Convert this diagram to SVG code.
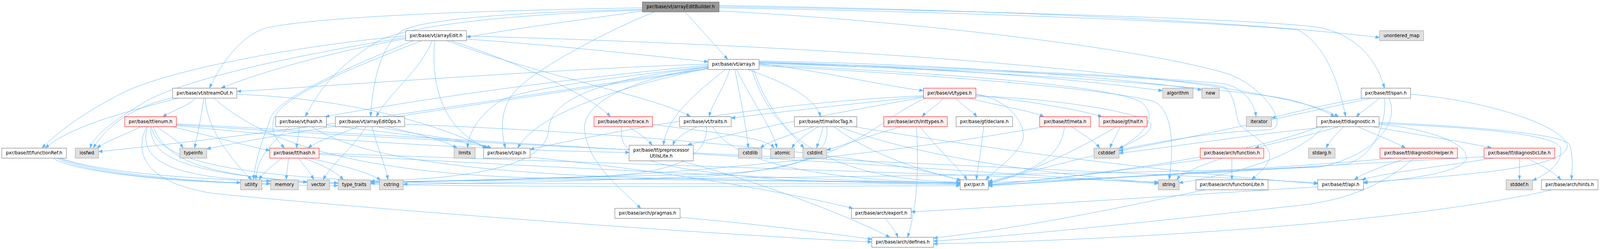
<svg xmlns="http://www.w3.org/2000/svg" width="4490" height="637" viewBox="0 0 4490 637" preserveAspectRatio="none">
<style>
svg{width:100vw;height:100vh}
.e path{fill:none;stroke:#63b8ff;stroke-width:1;marker-end:url(#a)}
.nd rect{stroke-width:1}
.w rect{fill:#fff;stroke:#666}
.g rect{fill:#e0e0e0;stroke:#999}
.r rect{fill:#fff0f0;stroke:#f00}
.root rect{fill:#999;stroke:#666}
text{font-family:"DejaVu Sans","Liberation Sans",sans-serif;font-size:12.8px;text-anchor:middle;fill:#000}
</style>
<defs>
<marker id="a" markerWidth="11" markerHeight="8" refX="11" refY="4" orient="auto" markerUnits="userSpaceOnUse"><path d="M0,0L11,4L0,8z" fill="#63b8ff" stroke="#63b8ff" stroke-width="1"/></marker>
</defs>
<rect width="4490" height="637" fill="#fff"/>
<g id="edges" class="e">
<path d="M1923,30.6 L2042,151.5"/>
<path d="M1803,28 C1700,42 1450,72 1309.5,95"/>
<path d="M1803,20 C1400,26 900,40 745,72 C680,90 620,160 588,225"/>
<path d="M1803,24 C1500,30 1200,45 1130,78 C1060,120 1045,230 1040,298"/>
<path d="M1803,26 C1500,34 1150,60 1060,106 C960,160 900,220 857,298"/>
<path d="M1836,30.6 C1700,80 1520,170 1460,220 C1400,270 1405,330 1418,378.5"/>
<path d="M2018,14 C2800,25 3500,55 3871,96"/>
<path d="M2018,17 C2800,28 3550,50 3700,70 C3820,90 3870,170 3885,225"/>
<path d="M2018,20 C2800,32 3450,60 3640,76 C3720,110 3760,220 3776,298"/>
<path d="M2018,28 C2500,50 3200,120 3450,190 C3560,230 3620,330 3560,332 C3300,340 3000,410 2774,468"/>
<path d="M1309,100 C1550,115 1800,140 1987,158"/>
<path d="M1138.5,99 C950,130 760,175 621,225"/>
<path d="M1138.5,92 C900,110 500,170 350,235 C230,290 160,340 118,378.5"/>
<path d="M1138.5,96 C900,130 500,200 390,270 C300,320 265,350 252,378.5"/>
<path d="M1183,104 C1000,170 800,240 770,300 C755,340 780,360 798,378.5"/>
<path d="M1213,104 C1180,180 1090,240 1056,298"/>
<path d="M1220,104 C1210,200 1230,330 1370,378.5"/>
<path d="M1266,104 C1450,160 1650,240 1713,298"/>
<path d="M1254,104 C1500,190 1850,250 1937,298"/>
<path d="M1309,92 C2000,110 2800,145 3400,220 C3600,250 3700,270 3756,298"/>
<path d="M1160,104 C900,200 780,260 760,300 C740,350 715,410 712,459.5"/>
<path d="M1987,164 C1600,175 1000,215 665,234"/>
<path d="M1987,167 C1600,200 1200,250 913,298.5"/>
<path d="M2048,177.6 C2030,230 2000,260 1990,298"/>
<path d="M2036,177.6 C1950,240 1870,300 1862,371"/>
<path d="M2062,177.6 C2080,260 2095,330 2100,378.5"/>
<path d="M2067,177.6 C2110,260 2170,330 2180,378.5"/>
<path d="M2098,177.6 C2200,210 2290,250 2302,298"/>
<path d="M2130,163 C2300,180 2450,215 2591,232"/>
<path d="M1987,171 C1800,200 1640,250 1640,330 C1650,420 1740,480 1798,533"/>
<path d="M1987,170 C1700,200 1450,230 1400,260 C1340,300 1315,340 1312,378.5"/>
<path d="M1987,174 C1700,230 1500,300 1453,378.5"/>
<path d="M1987,172 C1700,200 1545,250 1540,330 C1535,430 1300,458 1040.5,463"/>
<path d="M2130,158 C2600,170 3000,200 3262,232"/>
<path d="M2130,156 C2700,165 3150,200 3372,230"/>
<path d="M2130,160 C2800,175 3300,200 3440,215 C3500,230 3520,270 3525,298"/>
<path d="M2130,165 C2600,185 3100,215 3200,260 C3260,300 3200,350 3140,380"/>
<path d="M2130,168 C2600,190 3100,225 3240,260 C3300,290 3290,400 3281,459.5"/>
<path d="M2130,162 C2700,180 3300,195 3433,222 C3470,240 3465,300 3480,320 C3510,345 3565,370 3563,400 C3560,425 3530,445 3513,459.5"/>
<path d="M2130,160 C2900,185 3500,230 3620,255 C3680,270 3720,285 3745,298"/>
<path d="M2110,177.6 C2160,330 2300,460 2694,466"/>
<path d="M1987,175 C1500,240 900,330 276.5,388"/>
<path d="M1987,176 C1500,250 900,320 580.5,381"/>
<path d="M2115,177.6 C2150,280 2220,340 2256,378.5"/>
<path d="M550,251 C530,270 480,285 457,298.5"/>
<path d="M572,251 C565,300 555,340 546,378.5"/>
<path d="M576,251 C580,330 650,410 706,459.5"/>
<path d="M500,251 C380,280 200,320 127,378.5"/>
<path d="M486,250 C380,270 300,320 262,378.5"/>
<path d="M664.5,241 C950,252 1180,300 1365,378.5"/>
<path d="M600,251 C700,330 900,440 1500,455 C2000,462 2400,465 2694,468"/>
<path d="M396,324 C350,345 300,360 272,378.5"/>
<path d="M441,324 C470,345 500,360 514,378.5"/>
<path d="M482,324 C600,350 700,375 757,385"/>
<path d="M412,324 C370,400 420,470 600,495 C1100,540 2000,600 2446,619"/>
<path d="M414,324 C390,400 450,455 759,463"/>
<path d="M422,324 C425,400 500,440 862,466"/>
<path d="M430,324 C470,420 600,455 948,468"/>
<path d="M495,317 C1200,350 2800,440 3250,470"/>
<path d="M495,321 C900,360 1400,385 1765.5,390"/>
<path d="M495,319 C1500,380 3200,440 3698,468"/>
<path d="M425,324 C440,420 700,470 1500,470 C2000,470 2400,470 2694,471"/>
<path d="M150,404.6 C200,440 500,467 675,467"/>
<path d="M160,404.6 C250,450 600,470 759,470"/>
<path d="M165,404.6 C300,455 700,475 948,475"/>
<path d="M170,404.6 C400,480 1200,480 2694,475"/>
<path d="M840,324 C838,345 834,360 832,378.5"/>
<path d="M916,320 C1100,340 1300,360 1372,378.5"/>
<path d="M875,324 C1000,400 1300,440 1800,455 C2200,462 2500,466 2694,467"/>
<path d="M813,324 C770,360 720,400 718,459.5"/>
<path d="M1005,324 C950,345 890,360 865,378.5"/>
<path d="M1027,324 C990,380 930,420 907,459.5"/>
<path d="M1044,324 C1060,380 1080,420 1089,459.5"/>
<path d="M1087,324 C1180,345 1250,360 1282,378.5"/>
<path d="M1058,324 C1200,350 1330,360 1378,378.5"/>
<path d="M1135.5,318 C1800,340 2500,400 2696,462"/>
<path d="M810,404.6 C808,420 805,440 803,459.5"/>
<path d="M837,404.6 C850,420 870,440 880,459.5"/>
<path d="M852,404.6 C900,420 945,440 963,459.5"/>
<path d="M866,404.6 C950,420 1030,440 1068,460"/>
<path d="M790,404.6 C770,420 740,440 727,459.5"/>
<path d="M895.6,395 C1400,420 2200,460 2694,469"/>
<path d="M895.6,392 C1800,420 2800,450 3250.5,466"/>
<path d="M1487.4,402 C1900,440 2250,500 2393,533"/>
<path d="M1765,324 C1790,340 1815,355 1830,371"/>
<path d="M1831,318 C2000,340 2150,350 2172,378.5"/>
<path d="M1744,324 C1735,400 1800,430 2200,460 C2450,468 2600,470 2694,472"/>
<path d="M1956,324 C1920,340 1895,355 1888,371"/>
<path d="M2000,324 C2060,420 2300,460 2694,469"/>
<path d="M1983,324 C1985,400 1900,440 1700,450 C1400,460 1200,465 1040.5,466"/>
<path d="M2648,251 C2630,270 2600,285 2588,298.5"/>
<path d="M2682,251 C2700,270 2730,285 2741,298.5"/>
<path d="M2718,251 C2800,270 2900,285 2929,298.5"/>
<path d="M2738.6,243 C2900,260 3050,285 3092,298.5"/>
<path d="M2738.6,240 C2850,260 2880,330 2870,360 C2850,400 2800,430 2766,459.5"/>
<path d="M2591.3,245 C2200,260 1800,320 1488,382"/>
<path d="M2591.3,247 C2400,265 2200,285 2052,302"/>
<path d="M2591.3,249 C2400,280 2100,330 1930,371"/>
<path d="M2598,251 C2450,310 2400,420 2000,450 C1600,465 1300,470 1132,471"/>
<path d="M2738.6,246 C2950,250 3230,290 3230,320 C3230,345 3180,360 3142,381"/>
<path d="M2310,324 C2305,345 2297,360 2292,378.5"/>
<path d="M2283,324 C2220,345 2160,360 2134,378.5"/>
<path d="M2297,324 C2260,345 2235,360 2222,378.5"/>
<path d="M2340,324 C2450,400 2600,440 2697,461"/>
<path d="M2355,324 C2600,410 3000,450 3250.5,468"/>
<path d="M2395,324 C2900,400 3400,450 3698,470"/>
<path d="M2320,324 C2330,400 2250,435 2000,445 C1600,455 1200,462 1040.5,469"/>
<path d="M2527,324 C2450,345 2370,370 2320,384"/>
<path d="M2572,324 C2580,450 2570,540 2547,607"/>
<path d="M2582,324 C2630,380 2690,430 2714,459.5"/>
<path d="M2760,324 C2755,380 2745,420 2740,459.5"/>
<path d="M3007,324 C3040,345 3070,360 3086,378.5"/>
<path d="M2987,324 C2980,400 2900,440 2774,464"/>
<path d="M2930,324 C2600,380 2000,440 1600,455 C1300,462 1150,466 1040.5,468"/>
<path d="M3143,324 C3135,345 3122,360 3115,378.5"/>
<path d="M3133,324 C3050,370 2900,440 2774,470"/>
<path d="M3457,404.6 L3457,459.5"/>
<path d="M3430,404.6 C3380,420 3320,440 3302,459.5"/>
<path d="M3400,404.6 C3200,430 2950,460 2774,472"/>
<path d="M3770,324 C3750,345 3730,360 3722,378.5"/>
<path d="M3757,324 C3680,345 3580,365 3522,378.5"/>
<path d="M3733,324 C3500,345 3300,375 3140.5,392"/>
<path d="M3811,324 C3860,345 3920,365 3943,378.5"/>
<path d="M3851,324 C3980,345 4120,365 4185,378.5"/>
<path d="M3869.8,313 C4100,322 4380,340 4405,370 C4415,400 4412,430 4410,459.5"/>
<path d="M3869.8,316 C4100,325 4370,340 4380,380 C4385,420 4340,445 4301,462"/>
<path d="M3869.8,318 C4020,330 4120,370 4115,405 C4110,440 3950,460 3826.5,468"/>
<path d="M3715,324 C3650,390 3500,440 3309,468"/>
<path d="M3700,324 C3500,400 3000,455 2774,473"/>
<path d="M3870,251 C3850,270 3820,285 3806,298.5"/>
<path d="M3827,251 C3700,270 3620,290 3568.3,302"/>
<path d="M3849,251 C3600,300 3300,360 3140.5,386"/>
<path d="M3886,251 C3890,330 3850,400 3780,420 C3500,440 3000,460 2774,467"/>
<path d="M3898,251 C3930,320 3850,400 3700,428 C3000,450 1500,460 1040.5,465"/>
<path d="M3958.5,241 C4200,260 4400,330 4398,375 C4390,410 4300,440 3826.5,466"/>
<path d="M3947,404.6 C3900,420 3830,440 3801,459.5"/>
<path d="M3912,404.6 C3600,430 3000,460 2774,474"/>
<path d="M3967,404.6 C3900,460 3800,510 3650,525 C3300,560 2900,600 2620,617"/>
<path d="M4191,404.6 C4050,425 3900,440 3822,459.5"/>
<path d="M4264,404.6 L4264,459.5"/>
<path d="M4284,404.6 C4320,420 4360,440 4380,459.5"/>
<path d="M4165,401 C3600,430 3000,460 2774,476"/>
<path d="M3698,478 C3300,500 2900,525 2557,542"/>
<path d="M3382,485.6 C3200,520 2900,580 2620,609"/>
<path d="M4355,485.6 C4000,560 3300,610 2620,624"/>
<path d="M2484,558.6 C2500,575 2512,590 2520,607"/>
<path d="M1908.5,556 C2150,575 2350,600 2446.5,612"/>
<path d="M1911,411.5 C2150,470 2400,560 2497,607"/>
</g>
<g id="n_arrayEditBuilder" class="nd root"><rect x="1802.5" y="5" width="215.5" height="25.6"/><text x="1910.2" y="21.1">pxr/base/vt/arrayEditBuilder.h</text></g>
<g id="n_arrayEdit" class="nd w"><rect x="1138.5" y="78.5" width="170.5" height="25.6"/><text x="1223.7" y="94.6">pxr/base/vt/arrayEdit.h</text></g>
<g id="n_unordered_map" class="nd g"><rect x="3871.5" y="78.5" width="123.5" height="25.6"/><text x="3933.2" y="94.6">unordered_map</text></g>
<g id="n_array" class="nd w"><rect x="1987" y="152" width="143" height="25.6"/><text x="2058.5" y="168.1">pxr/base/vt/array.h</text></g>
<g id="n_streamOut" class="nd w"><rect x="484.5" y="225.5" width="180" height="25.6"/><text x="574.5" y="241.6">pxr/base/vt/streamOut.h</text></g>
<g id="n_types" class="nd r"><rect x="2591.5" y="225.5" width="147" height="25.6"/><text x="2665" y="241.6">pxr/base/vt/types.h</text></g>
<g id="n_span" class="nd w"><rect x="3820" y="225.5" width="138.5" height="25.6"/><text x="3889.2" y="241.6">pxr/base/tf/span.h</text></g>
<g id="n_algorithm" class="nd g"><rect x="3262.5" y="225.5" width="85.3" height="25.6"/><text x="3305.2" y="241.6">algorithm</text></g>
<g id="n_new" class="nd g"><rect x="3372.5" y="225.5" width="49" height="25.6"/><text x="3397" y="241.6">new</text></g>
<g id="n_enum" class="nd r"><rect x="350" y="298.5" width="145" height="25.6"/><text x="422.5" y="314.6">pxr/base/tf/enum.h</text></g>
<g id="n_vthash" class="nd w"><rect x="773.5" y="298.5" width="142.5" height="25.6"/><text x="844.7" y="314.6">pxr/base/vt/hash.h</text></g>
<g id="n_arrayEditOps" class="nd w"><rect x="941" y="298.5" width="194.5" height="25.6"/><text x="1038.2" y="314.6">pxr/base/vt/arrayEditOps.h</text></g>
<g id="n_trace" class="nd r"><rect x="1667" y="298.5" width="164" height="25.6"/><text x="1749" y="314.6">pxr/base/trace/trace.h</text></g>
<g id="n_traits" class="nd w"><rect x="1907" y="298.5" width="145" height="25.6"/><text x="1979.5" y="314.6">pxr/base/vt/traits.h</text></g>
<g id="n_mallocTag" class="nd w"><rect x="2229.5" y="298.5" width="175" height="25.6"/><text x="2317" y="314.6">pxr/base/tf/mallocTag.h</text></g>
<g id="n_inttypes" class="nd r"><rect x="2480" y="298.5" width="178.5" height="25.6"/><text x="2569.2" y="314.6">pxr/base/arch/inttypes.h</text></g>
<g id="n_declare" class="nd w"><rect x="2683" y="298.5" width="158.5" height="25.6"/><text x="2762.2" y="314.6">pxr/base/gf/declare.h</text></g>
<g id="n_meta" class="nd r"><rect x="2917.5" y="298.5" width="143" height="25.6"/><text x="2989" y="314.6">pxr/base/tf/meta.h</text></g>
<g id="n_half" class="nd r"><rect x="3084.5" y="298.5" width="134.5" height="25.6"/><text x="3151.7" y="314.6">pxr/base/gf/half.h</text></g>
<g id="n_iterator" class="nd g"><rect x="3497.5" y="298.5" width="71" height="25.6"/><text x="3533" y="314.6">iterator</text></g>
<g id="n_diagnostic" class="nd w"><rect x="3695" y="298.5" width="175" height="25.6"/><text x="3782.5" y="314.6">pxr/base/tf/diagnostic.h</text></g>
<g id="n_functionRef" class="nd w"><rect x="5" y="379" width="181.5" height="25.6"/><text x="95.7" y="395.1">pxr/base/tf/functionRef.h</text></g>
<g id="n_iosfwd" class="nd g"><rect x="211" y="379" width="65.5" height="25.6"/><text x="243.7" y="395.1">iosfwd</text></g>
<g id="n_typeinfo" class="nd g"><rect x="504.5" y="379" width="75.8" height="25.6"/><text x="542.4" y="395.1">typeinfo</text></g>
<g id="n_tfhash" class="nd r"><rect x="757" y="379" width="138.5" height="25.6"/><text x="826.2" y="395.1">pxr/base/tf/hash.h</text></g>
<g id="n_limits" class="nd g"><rect x="1274.5" y="379" width="59" height="25.6"/><text x="1304" y="395.1">limits</text></g>
<g id="n_vtapi" class="nd w"><rect x="1357" y="379" width="130.5" height="25.6"/><text x="1422.2" y="395.1">pxr/base/vt/api.h</text></g>
<g id="n_preprocessorUtilsLite" class="nd w"><rect x="1765.5" y="371.5" width="180" height="40"/><text x="1855.5" y="387.6">pxr/base/tf/preprocessor</text><text x="1855.5" y="402.6">UtilsLite.h</text></g>
<g id="n_cstdlib" class="nd g"><rect x="2072.5" y="379" width="65.5" height="25.6"/><text x="2105.2" y="395.1">cstdlib</text></g>
<g id="n_atomic" class="nd g"><rect x="2162.5" y="379" width="66.5" height="25.6"/><text x="2195.7" y="395.1">atomic</text></g>
<g id="n_cstdint" class="nd g"><rect x="2253" y="379" width="67" height="25.6"/><text x="2286.5" y="395.1">cstdint</text></g>
<g id="n_cstddef" class="nd g"><rect x="3070" y="379" width="70.5" height="25.6"/><text x="3105.2" y="395.1">cstddef</text></g>
<g id="n_function" class="nd r"><rect x="3368" y="379" width="178.5" height="25.6"/><text x="3457.2" y="395.1">pxr/base/arch/function.h</text></g>
<g id="n_stdarg" class="nd g"><rect x="3672" y="379" width="74.5" height="25.6"/><text x="3709.2" y="395.1">stdarg.h</text></g>
<g id="n_diagnosticHelper" class="nd r"><rect x="3872.5" y="379" width="217.5" height="25.6"/><text x="3981.2" y="395.1">pxr/base/tf/diagnosticHelper.h</text></g>
<g id="n_diagnosticLite" class="nd r"><rect x="4164.5" y="379" width="198.5" height="25.6"/><text x="4263.7" y="395.1">pxr/base/tf/diagnosticLite.h</text></g>
<g id="n_utility" class="nd g"><rect x="675" y="460" width="60" height="25.6"/><text x="705" y="476.1">utility</text></g>
<g id="n_memory" class="nd g"><rect x="759.5" y="460" width="77.5" height="25.6"/><text x="798.2" y="476.1">memory</text></g>
<g id="n_vector" class="nd g"><rect x="862" y="460" width="62.7" height="25.6"/><text x="893.3" y="476.1">vector</text></g>
<g id="n_type_traits" class="nd g"><rect x="948.5" y="460" width="91.5" height="25.6"/><text x="994.2" y="476.1">type_traits</text></g>
<g id="n_cstring" class="nd g"><rect x="1065" y="460" width="66.6" height="25.6"/><text x="1098.3" y="476.1">cstring</text></g>
<g id="n_pxr" class="nd w"><rect x="2694.5" y="460" width="79" height="25.6"/><text x="2734" y="476.1">pxr/pxr.h</text></g>
<g id="n_string" class="nd g"><rect x="3250.5" y="460" width="58.5" height="25.6"/><text x="3279.7" y="476.1">string</text></g>
<g id="n_functionLite" class="nd w"><rect x="3356" y="460" width="202.5" height="25.6"/><text x="3457.2" y="476.1">pxr/base/arch/functionLite.h</text></g>
<g id="n_tfapi" class="nd w"><rect x="3698" y="460" width="128.5" height="25.6"/><text x="3762.2" y="476.1">pxr/base/tf/api.h</text></g>
<g id="n_stddef" class="nd g"><rect x="4226.5" y="460" width="74.5" height="25.6"/><text x="4263.7" y="476.1">stddef.h</text></g>
<g id="n_hints" class="nd w"><rect x="4325.5" y="460" width="159" height="25.6"/><text x="4405" y="476.1">pxr/base/arch/hints.h</text></g>
<g id="n_pragmas" class="nd w"><rect x="1725.5" y="533" width="183" height="25.6"/><text x="1817" y="549.1">pxr/base/arch/pragmas.h</text></g>
<g id="n_export" class="nd w"><rect x="2389" y="533" width="168" height="25.6"/><text x="2473" y="549.1">pxr/base/arch/export.h</text></g>
<g id="n_defines" class="nd w"><rect x="2446.5" y="607" width="173.5" height="25.6"/><text x="2533.2" y="623.1">pxr/base/arch/defines.h</text></g>
</svg>
